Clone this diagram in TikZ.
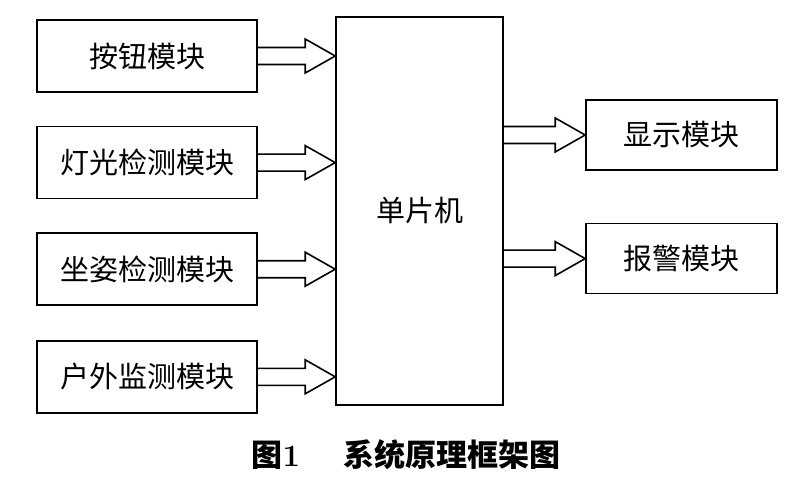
\documentclass[tikz,border=0pt]{standalone}
\usepackage{fontspec}
\usepackage{tikz}
\usetikzlibrary{positioning,calc}
\newfontfamily\cjk{Noto Sans CJK SC}

% hollow block arrow between two points, open at its start
\newcommand{\fatarrow}[2]{%
  \draw[hollow] ($(#1)+(0,8.5)$) -- ($(#2)+(-30,8.5)$) -- ++(0,8.5) -- (#2)
    -- ++(-30,-17) -- ++(0,8.5) -- ($(#1)+(0,-8.5)$);}

\begin{document}
\begin{tikzpicture}[x=1pt, y=1pt, node distance=33pt,
    block/.style={rectangle, draw, line width=1.6pt, minimum width=220pt, minimum height=72pt, inner sep=0pt, font=\cjk\fontsize{29pt}{31pt}\selectfont},
    outblock/.style={block, minimum width=191pt, minimum height=70pt},
    hollow/.style={line width=1.6pt, line join=miter}]
    \useasboundingbox (0,0) rectangle (800,-485);

    \node[block, minimum width=167pt, minimum height=388pt] (mcu) at (419.5,-211) {单片机};
    \node[block] (key) at (147,-56) {按钮模块};
    \node[block, below=of key] (light) {灯光检测模块};
    \node[block, below=of light] (pose) {坐姿检测模块};
    \node[block, below=34pt of pose] (outdoor) {户外监测模块};
    \node[outblock] (disp) at (681.5,-135) {显示模块};
    \node[outblock, below=52pt of disp] (alarm) {报警模块};
    \node[font=\cjk\bfseries\fontsize{31pt}{33pt}\selectfont] (cap) at (406,-455)
        {图{\rmfamily 1}\hspace{1.4em}系统原理框架图};

    \fatarrow{key.east}{mcu.west|-key.east}
    \fatarrow{light.east}{mcu.west|-light.east}
    \fatarrow{pose.east}{mcu.west|-pose.east}
    \fatarrow{outdoor.east}{mcu.west|-outdoor.east}
    \fatarrow{mcu.east|-disp.west}{disp.west}
    \fatarrow{mcu.east|-alarm.west}{alarm.west}
\end{tikzpicture}
\end{document}
